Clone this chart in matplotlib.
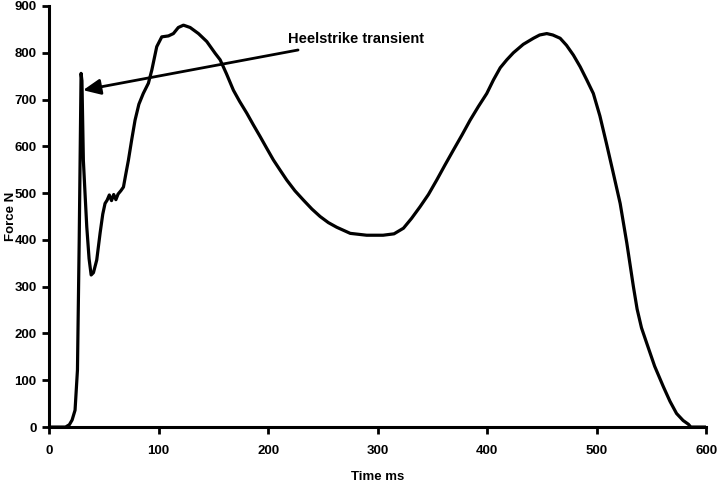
import matplotlib
matplotlib.use("Agg")
import matplotlib.pyplot as plt

plt.rcParams['font.family'] = ['Liberation Sans', 'DejaVu Sans']
plt.rcParams['font.weight'] = 'bold'

# ground reaction force trace
time_ms = [0, 15, 18.5, 21, 23.7, 25.9, 27.5, 29.2, 30, 31.3, 32.8, 34.4, 36.5, 38.4, 40.5,
           43.5, 46.6, 49, 51.1, 53, 55, 57, 59, 61, 63, 65.5, 67.9, 70, 72.4,
           75.5, 78.5, 82, 86, 90.7, 93.8, 98.3, 102.9, 109, 113.5, 118, 122.7, 128.8, 136.4,
           144, 151.6, 156.2, 162, 168.3, 174, 180.5, 186.5, 192.7, 198.7, 204.8, 211, 217,
           224.5, 232.3, 240, 247.5, 255, 262.7, 275, 290, 305, 315, 323.6, 331, 338.8, 346.4,
           354, 361.5, 369.2, 377, 384.5, 392, 399.7, 405.8, 412, 418, 424, 433, 442.3, 448,
           454.5, 460, 466.7, 472.5, 478.8, 485, 491, 497, 503, 509, 515, 521.5, 527.6,
           533.6, 537, 541, 545.8, 553, 561, 567, 573, 579, 583.8, 586, 600]
force_n = [0, 0, 5, 15, 36, 122, 400, 756, 740, 570, 500, 428, 360, 325, 330,
           357, 415, 455, 478, 485, 496, 484, 497, 486, 498, 505, 513, 540, 570,
           615, 656, 690, 713, 735, 763, 813, 834, 836, 841, 854, 859, 854, 841,
           824, 799, 785, 755, 720, 696, 671, 646, 621, 596, 571, 549, 528,
           505, 485, 466, 450, 437, 427, 414, 410, 410, 413, 425, 446, 471, 497,
           528, 560, 592, 624, 656, 685, 713, 742, 768, 785, 800, 818, 831, 838,
           841, 838, 831, 816, 795, 770, 742, 713, 665, 606, 545, 478, 393,
           300, 252, 212, 179, 130, 86, 55, 29, 14, 6, 0, 0]

fig = plt.figure(figsize=(7.22, 4.82), dpi=100)
ax = fig.add_axes([0.068, 0.114, 0.910, 0.8736])

ax.plot(time_ms, force_n, color='black', lw=2.3, solid_joinstyle='round')

ax.set_xlim(0, 600)
ax.set_ylim(0, 900)
ax.set_xticks(range(0, 601, 100))
ax.set_yticks(range(0, 901, 100))
for side in ['top', 'right']:
    ax.spines[side].set_visible(False)
for side in ['left', 'bottom']:
    ax.spines[side].set_linewidth(2.2)
ax.tick_params(direction='out', length=5, width=2, labelsize=9.5)
ax.tick_params(axis='x', pad=8)
ax.tick_params(axis='y', pad=4)
ax.set_xlabel('Time ms', fontsize=9.5, fontweight='bold', labelpad=10)
ax.set_ylabel('Force N', fontsize=9.5, fontweight='bold', va='center')
ax.yaxis.set_label_coords(-0.058, 0.5)

ax.annotate('Heelstrike transient', xy=(31, 720), xytext=(218, 829),
            fontsize=10.5, fontweight='bold', va='center', ha='left',
            arrowprops=dict(arrowstyle='-|>,head_length=1.0,head_width=0.45',
                            color='black', lw=2, shrinkA=4, shrinkB=0))

fig.savefig('out.png', dpi=100)
